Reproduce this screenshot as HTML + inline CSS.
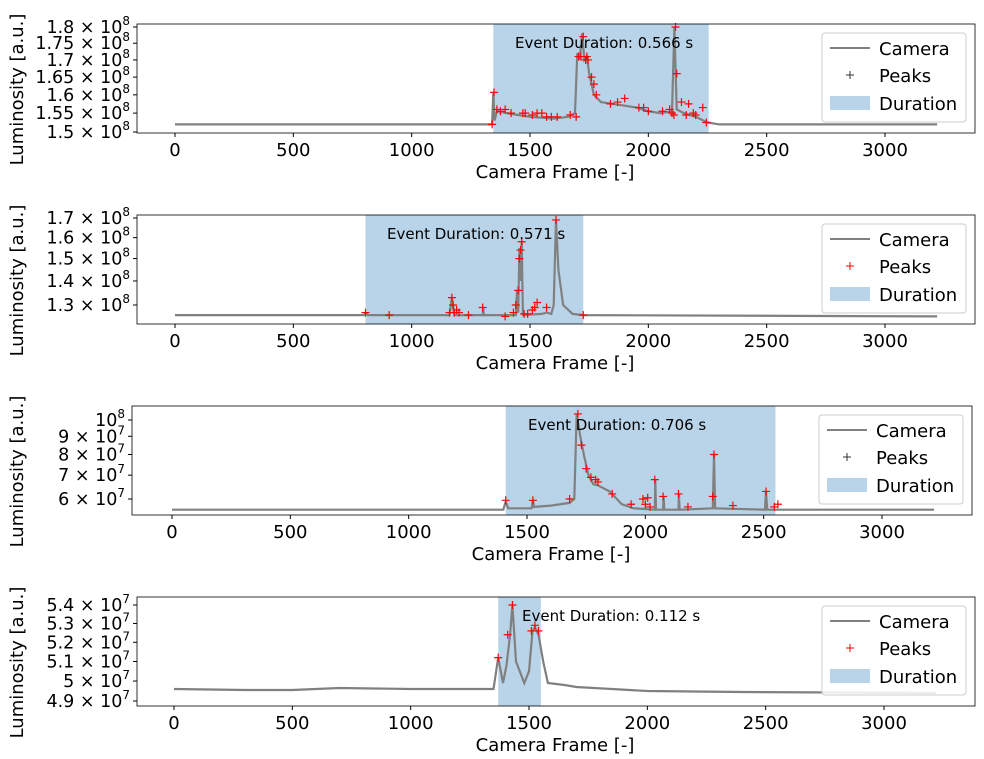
<!DOCTYPE html>
<html><head><meta charset="utf-8"><style>
body{margin:0;background:#fff;}
svg{display:block;font-family:"DejaVu Sans","Liberation Sans",sans-serif;}
</style></head><body>
<svg id="fig" width="984" height="759"></svg>
<script>
// Panel 1 data (values in 1e8)
const p1Frames=[0,1340,1345,1350,1360,1400,1450,1500,1600,1660,1690,1700,1710,1720,1730,1740,1750,1770,1800,1850,1900,1950,2000,2050,2100,2110,2120,2150,2200,2250,2300,3220];
const p1Values=[1.52,1.52,1.607,1.53,1.555,1.55,1.545,1.54,1.535,1.54,1.55,1.72,1.70,1.78,1.70,1.71,1.66,1.60,1.58,1.575,1.57,1.565,1.555,1.55,1.555,1.80,1.56,1.55,1.54,1.525,1.52,1.52];
const p1PeakFrames=[1340,1348,1360,1375,1395,1420,1470,1480,1510,1530,1550,1570,1590,1615,1670,1695,1705,1715,1725,1735,1740,1745,1760,1770,1780,1840,1870,1900,1960,1980,2000,2060,2090,2100,2108,2115,2120,2140,2160,2170,2190,2200,2230,2245];
const p1PeakValues=[1.52,1.607,1.56,1.555,1.56,1.55,1.55,1.55,1.545,1.55,1.55,1.54,1.54,1.54,1.545,1.54,1.71,1.71,1.77,1.70,1.71,1.70,1.65,1.63,1.60,1.575,1.58,1.59,1.565,1.565,1.555,1.555,1.56,1.55,1.545,1.80,1.66,1.58,1.545,1.575,1.55,1.545,1.565,1.525];
const p1Ticks=[1.5,1.55,1.6,1.65,1.7,1.75,1.8];
// Panel 2 data (1e8)
const p2Frames=[0,800,805,815,1160,1170,1180,1300,1302,1305,1440,1445,1450,1455,1460,1465,1470,1550,1570,1590,1600,1610,1620,1640,1680,1725,3220];
const p2Values=[1.26,1.26,1.27,1.26,1.26,1.33,1.26,1.26,1.29,1.26,1.26,1.36,1.27,1.55,1.40,1.58,1.26,1.265,1.27,1.265,1.30,1.69,1.45,1.30,1.265,1.26,1.255];
const p2PeakFrames=[805,905,1160,1170,1175,1180,1190,1200,1240,1300,1395,1430,1440,1450,1455,1460,1465,1475,1490,1510,1520,1530,1570,1610,1725];
const p2PeakValues=[1.27,1.26,1.27,1.33,1.30,1.27,1.28,1.27,1.26,1.29,1.255,1.27,1.30,1.36,1.50,1.54,1.58,1.265,1.265,1.28,1.29,1.31,1.29,1.69,1.26];
const p2Ticks=[1.3,1.4,1.5,1.6,1.7];
// Panel 3 data (1e7)
const p3Frames=[0,1400,1410,1420,1520,1525,1530,1600,1680,1700,1710,1725,1740,1760,1780,1800,1850,1900,1950,2040,2042,2045,2075,2077,2080,2140,2142,2145,2285,2290,2295,2505,2510,2515,3220];
const p3Values=[5.6,5.6,5.9,5.65,5.65,5.95,5.7,5.75,5.85,6.0,10.4,9.0,8.0,7.0,6.6,6.55,6.3,5.8,5.65,5.6,6.8,5.6,5.6,6.1,5.6,5.6,6.2,5.6,5.65,8.0,5.65,5.6,6.3,5.6,5.6];
const p3PeakFrames=[1410,1525,1680,1715,1730,1750,1770,1790,1800,1860,1940,1990,2000,2010,2020,2040,2075,2140,2180,2285,2290,2370,2510,2545,2560];
const p3PeakValues=[5.95,5.95,6.0,10.4,8.5,7.3,6.9,6.8,6.7,6.2,5.8,6.0,5.8,6.05,5.7,6.8,6.1,6.2,5.7,6.1,8.0,5.75,6.3,5.7,5.8];
const p3Ticks=[6,7,8,9,10];
// Panel 4 data (1e7)
const p4Frames=[0,300,500,700,1000,1350,1370,1390,1405,1420,1430,1445,1480,1500,1515,1525,1540,1560,1580,1650,1700,2000,2400,3220];
const p4Values=[4.96,4.955,4.955,4.965,4.96,4.96,5.12,4.99,5.08,5.24,5.40,5.10,4.99,5.05,5.26,5.28,5.24,5.10,4.99,4.98,4.97,4.95,4.945,4.94];
const p4PeakFrames=[1370,1410,1430,1510,1525,1540];
const p4PeakValues=[5.12,5.24,5.40,5.26,5.29,5.26];
const p4Ticks=[4.9,5.0,5.1,5.2,5.3,5.4];
const xTicks=[0,500,1000,1500,2000,2500,3000];

const panels=[
 {f:p1Frames,v:p1Values,pf:p1PeakFrames,pv:p1PeakValues,t:p1Ticks,exp:8,lbl:['1.5','1.55','1.6','1.65','1.7','1.75','1.8'],
  top:24,bot:133,left:137,right:975,x0:175,vlo:1.5,vlo_y:132,vhi:1.8,vhi_y:27,span:[1345,2255],dur:'0.566',txtX:515,legY:33},
 {f:p2Frames,v:p2Values,pf:p2PeakFrames,pv:p2PeakValues,t:p2Ticks,exp:8,lbl:['1.3','1.4','1.5','1.6','1.7'],
  top:215,bot:324,left:137,right:975,x0:175,vlo:1.3,vlo_y:305,vhi:1.7,vhi_y:218,span:[805,1725],dur:'0.571',txtX:387,legY:224},
 {f:p3Frames,v:p3Values,pf:p3PeakFrames,pv:p3PeakValues,t:p3Ticks,exp:7,lbl:['6','7','8','9','10'],
  top:406,bot:515,left:132,right:972,x0:172,vlo:6,vlo_y:499,vhi:10,vhi_y:420,span:[1410,2550],dur:'0.706',txtX:528,legY:415},
 {f:p4Frames,v:p4Values,pf:p4PeakFrames,pv:p4PeakValues,t:p4Ticks,exp:7,lbl:['4.9','5','5.1','5.2','5.3','5.4'],
  top:597,bot:706,left:137,right:975,x0:174,vlo:4.9,vlo_y:701,vhi:5.4,vhi_y:605,span:[1370,1550],dur:'0.112',txtX:522,legY:606}
];
const NS='http://www.w3.org/2000/svg';
const svg=document.getElementById('fig');
function mk(tag,attrs,parent){const e=document.createElementNS(NS,tag);for(const k in attrs)e.setAttribute(k,attrs[k]);(parent||svg).appendChild(e);return e;}
const pxPerFrame=710/3000;
panels.forEach((p,i)=>{
  const g=mk('g',{});
  
  
  const X=f=>p.x0+f*pxPerFrame;
  const k=(p.vlo_y-p.vhi_y)/(Math.log(p.vhi)-Math.log(p.vlo));
  const Y=v=>p.vlo_y-(Math.log(v)-Math.log(p.vlo))*k;
  const cp='cp'+i;
  const c=mk('clipPath',{id:cp},g);mk('rect',{x:p.left,y:p.top,width:p.right-p.left,height:p.bot-p.top},c);
  const sp=mk('rect',{x:X(p.span[0]),y:p.top,width:X(p.span[1])-X(p.span[0]),height:p.bot-p.top,fill:'#b9d4e8'},g);
  
  
  const pts=p.f.map((f,j)=>X(f).toFixed(1)+','+Y(p.v[j]).toFixed(1)).join(' ');
  const ln=mk('polyline',{points:pts,fill:'none',stroke:'#808080','stroke-width':2.2,'clip-path':'url(#'+cp+')'},g);
  
  
  p.pf.forEach((f,j)=>{
    const x=X(f),y=Y(p.pv[j]);
    const m=mk('path',{d:`M${x-4},${y}H${x+4}M${x},${y-4}V${y+4}`,stroke:'red','stroke-width':1.2},g);
    
    
  });
  const fr=mk('rect',{x:p.left,y:p.top,width:p.right-p.left,height:p.bot-p.top,fill:'none',stroke:'#000','stroke-width':0.8},g);
  
  
  xTicks.forEach(t=>{
    const x=X(t);
    mk('line',{x1:x,x2:x,y1:p.bot,y2:p.bot+4,stroke:'#000'},g);
    const tx=mk('text',{x:x,y:p.bot+23,'font-size':18,'text-anchor':'middle'},g);tx.textContent=t;
    
    
  });
  p.t.forEach((t,j)=>{
    const y=Y(t);
    mk('line',{x1:p.left-4,x2:p.left,y1:y,y2:y,stroke:'#000'},g);
    const tx=mk('text',{x:p.left-7,y:y+6,'font-size':17.5,'text-anchor':'end'},g);
    const isTen=(p.lbl[j]==='10');
    if(isTen){tx.innerHTML='10<tspan font-size="12" dy="-8">'+(p.exp+1)+'</tspan>';}
    else tx.innerHTML=p.lbl[j]+' × 10<tspan font-size="12" dy="-8">'+p.exp+'</tspan>';
    
    
  });
  const xl=mk('text',{x:(p.left+p.right)/2-1,y:p.bot+45,'font-size':18,'text-anchor':'middle'},g);xl.textContent='Camera Frame [-]';
  
  
  const yc=(p.top+p.bot)/2+11;
  const yl=mk('text',{x:23,y:yc,'font-size':18,'text-anchor':'middle',transform:`rotate(-90 23 ${yc})`},g);yl.textContent='Luminosity [a.u.]';
  
  
  const et=mk('text',{x:p.txtX,y:p.top+24,'font-size':15},g);et.textContent='Event Duration: '+p.dur+' s';
  
  
  const lx=p.right-153, ly=p.legY;
  const lg=mk('g',{},g);
  
  
  mk('rect',{x:lx,y:ly,width:144,height:89,rx:3,fill:'#fff','fill-opacity':0.85,stroke:'#ccc'},lg);
  mk('line',{x1:lx+8,x2:lx+48,y1:ly+15,y2:ly+15,stroke:'#808080','stroke-width':2},lg);
  const mc=(i%2===0)?'#333':'red';
  mk('path',{d:`M${lx+24},${ly+42}h8M${lx+28},${ly+38}v8`,stroke:mc,'stroke-width':1},lg);
  mk('rect',{x:lx+8,y:ly+63,width:40,height:14,fill:'#b9d4e8'},lg);
  [['Camera',15],['Peaks',42],['Duration',70]].forEach(([s,dy])=>{
    const t=mk('text',{x:lx+57,y:ly+dy+7,'font-size':18},lg);t.textContent=s;
    
    
  });
});
</script>
</body></html>
